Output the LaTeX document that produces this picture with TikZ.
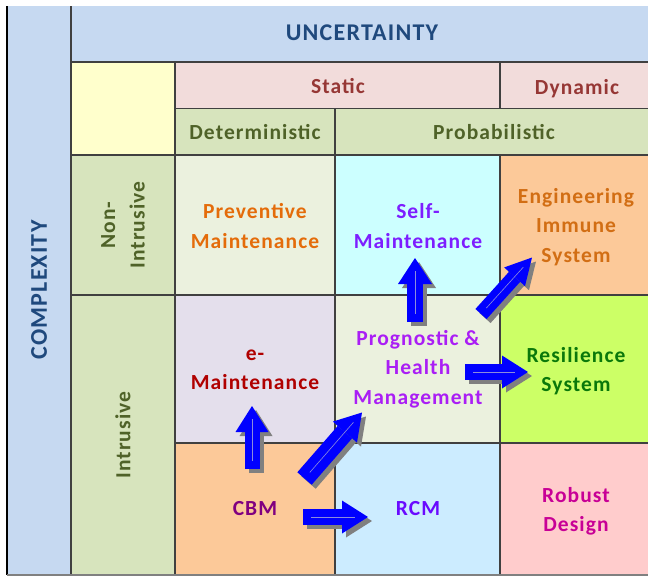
\documentclass[tikz,border=0pt]{standalone}
\usepackage{fontspec}
\setmainfont{Carlito}[LetterSpace=5]
\usetikzlibrary{arrows.meta}

% cell fills
\definecolor{hdrblue}{RGB}{198,217,241}
\definecolor{hdrpink}{RGB}{242,220,219}
\definecolor{hdrgreen}{RGB}{215,228,189}
\definecolor{cornery}{RGB}{255,255,204}
\definecolor{palegreen}{RGB}{235,241,222}
\definecolor{palecyan}{RGB}{204,255,255}
\definecolor{peach}{RGB}{252,201,153}
\definecolor{lavender}{RGB}{228,223,236}
\definecolor{lime}{RGB}{204,255,102}
\definecolor{skyblue}{RGB}{204,236,255}
\definecolor{rose}{RGB}{255,204,204}
% text colours
\definecolor{tBlue}{RGB}{31,73,125}
\definecolor{tRed}{RGB}{150,55,53}
\definecolor{tOlive}{RGB}{79,98,40}
\definecolor{tOrange}{RGB}{228,108,10}
\definecolor{tViolet}{RGB}{125,30,255}
\definecolor{tBurnt}{RGB}{210,110,20}
\definecolor{tCrimson}{RGB}{176,0,0}
\definecolor{tPurple}{RGB}{170,30,245}
\definecolor{tGreen}{RGB}{10,120,10}
\definecolor{tPlum}{RGB}{128,0,128}
\definecolor{tIndigo}{RGB}{105,10,255}
\definecolor{tMagenta}{RGB}{200,0,150}
% lines and arrows
\definecolor{gridline}{RGB}{64,64,64}
\definecolor{arrblue}{RGB}{0,0,255}
\definecolor{arrshadow}{RGB}{128,128,128}
\definecolor{arrline}{RGB}{140,140,220}

\begin{document}
\begin{tikzpicture}[x=1pt,y=-1pt,
  gridln/.style={draw=gridline, line width=1.1pt},
  lbl/.style={font=\bfseries\fontsize{21.5}{29.5}\selectfont, align=center, inner sep=0pt},
  big/.style={font=\bfseries\fontsize{24}{30}\selectfont, inner sep=0pt},
  % block arrow: #1 shaft width, #2 head width
  blk/.style 2 args={line width=#1, draw=arrblue,
    -{Triangle[length=26pt,width=#2,line width=0pt]}},
  blkshadow/.style 2 args={line width=#1, draw=arrshadow,
    -{Triangle[length=26pt,width=#2,line width=0pt]},
    transform canvas={shift={(4pt,-4pt)}}},
  blkline/.style={draw=arrline, line width=0.6pt, shorten <=8pt, shorten >=13pt}
]
\useasboundingbox (0,0) rectangle (648,576);
\clip (0,0) rectangle (648,576);

% column x: 7 71 175 335 500 652 ; row y: 6 62 108.5 155 295 443 575
% header band and side band
\fill[hdrblue] (71,6) rectangle (652,62);
\fill[hdrblue] (7,6) rectangle (71,575);
\fill[cornery] (71,62) rectangle (175,155);
\fill[hdrpink] (175,62) rectangle (500,108.5);
\fill[hdrpink] (500,62) rectangle (652,108.5);
\fill[hdrgreen] (175,108.5) rectangle (335,155);
\fill[hdrgreen] (335,108.5) rectangle (652,155);
\fill[hdrgreen] (71,155) rectangle (175,295);
\fill[hdrgreen] (71,295) rectangle (175,575);
% body cells
\fill[palegreen] (175,155) rectangle (335,295);
\fill[palecyan] (335,155) rectangle (500,295);
\fill[peach] (500,155) rectangle (652,295);
\fill[lavender] (175,295) rectangle (335,443);
\fill[palegreen] (335,295) rectangle (500,443);
\fill[lime] (500,295) rectangle (652,443);
\fill[peach] (175,443) rectangle (335,575);
\fill[skyblue] (335,443) rectangle (500,575);
\fill[rose] (500,443) rectangle (652,575);

% grid lines
\draw[black, line width=1.3pt] (7,6) -- (7,575);
\draw[gridln] (71,6) -- (71,575);
\draw[gridln] (175,62) -- (175,575);
\draw[gridln] (335,108.5) -- (335,575);
\draw[gridln] (500,62) -- (500,108.5);
\draw[gridln] (500,155) -- (500,575);
\draw[gridln] (71,62) -- (652,62);
\draw[gridln] (175,108.5) -- (652,108.5);
\draw[gridln] (71,155) -- (652,155);
\draw[gridln] (71,295) -- (652,295);
\draw[gridln] (175,443) -- (652,443);
\draw[draw=gray, line width=1.1pt] (7,575) -- (652,575);

% headers
\node[big, text=tBlue] (unc) at (362,33) {UNCERTAINTY};
\node[big, text=tBlue, rotate=90] (cpx) at (39,290) {COMPLEXITY};
\node[lbl, text=tRed] (static) at (338,86) {Static};
\node[lbl, text=tRed] (dynamic) at (577,88.5) {Dynamic};
\node[lbl, text=tOlive] (det) at (255,132) {Deterministic};
\node[lbl, text=tOlive] (prob) at (494,132) {Probabilistic};
\node[lbl, text=tOlive, rotate=90] (nonint) at (123,225) {Non-\\Intrusive};
\node[lbl, text=tOlive, rotate=90] (intr) at (123,435) {Intrusive};

% body labels
\node[lbl, text=tOrange] (prev) at (255,226) {Preventive\\Maintenance};
\node[lbl, text=tViolet] (self) at (418,226) {Self-\\Maintenance};
\node[lbl, text=tBurnt] (eis) at (576,227) {Engineering\\Immune\\System};
\node[lbl, text=tCrimson] (emaint) at (255,370) {e-\\Maintenance};
\node[lbl, text=tPurple] (phm) at (418,369) {Prognostic \&\\Health\\Management};
\node[lbl, text=tGreen] (res) at (576,371) {Resilience\\System};
\node[lbl, text=tPlum] (cbm) at (255,509) {CBM};
\node[lbl, text=tIndigo] (rcm) at (418,509) {RCM};
\node[lbl, text=tMagenta] (robust) at (576,511.5) {Robust\\Design};

% arrow end points
\coordinate (a1t) at (252,469); \coordinate (a1h) at (252,406);
\coordinate (a2t) at (303,517); \coordinate (a2h) at (368,517);
\coordinate (a3t) at (304.5,478.5); \coordinate (a3h) at (362,412.5);
\coordinate (a4t) at (415,322); \coordinate (a4h) at (415,258);
\coordinate (a5t) at (481,314); \coordinate (a5h) at (532,257.5);
\coordinate (a6t) at (465,372); \coordinate (a6h) at (528,372);

% block arrows with drop shadow
\foreach \t/\h/\sw/\hw in {a1t/a1h/15pt/33pt, a2t/a2h/16pt/33pt,
    a3t/a3h/19pt/32pt, a4t/a4h/16pt/34pt, a5t/a5h/15pt/28pt, a6t/a6h/16pt/33pt}{
  \draw[blkshadow={\sw}{\hw}] (\t) -- (\h);
  \draw[blk={\sw}{\hw}] (\t) -- (\h);
  \draw[blkline] (\t) -- (\h);
}
\end{tikzpicture}
\end{document}
